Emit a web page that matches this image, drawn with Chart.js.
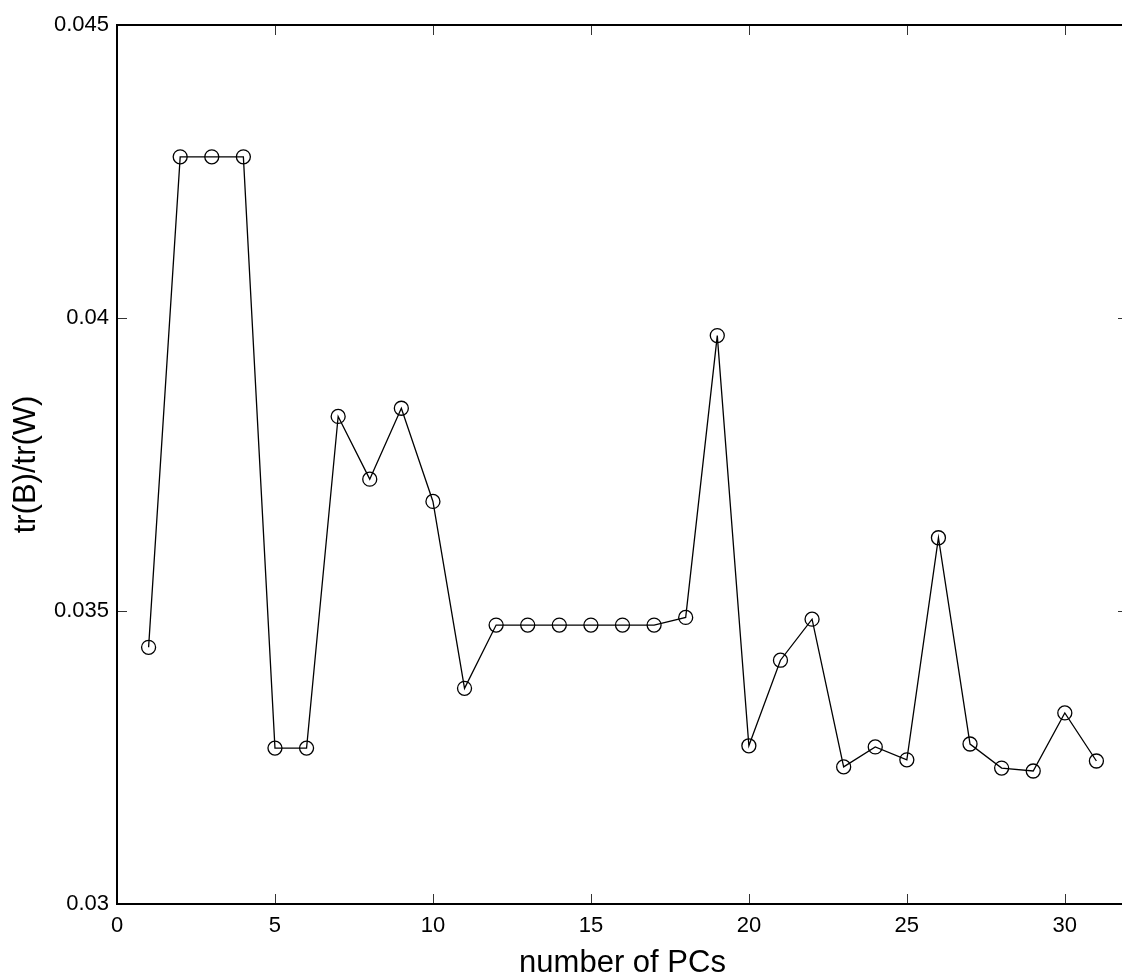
<!DOCTYPE html>
<html>
<head>
<meta charset="utf-8">
<script src="https://cdn.jsdelivr.net/npm/chart.js@4/dist/chart.umd.min.js"></script>
<style>
    html, body { margin: 0; padding: 0; background: #fff; overflow: hidden; }
    #wrap { position: absolute; left: 0; top: 0; width: 1140px; height: 979px; }
</style>
</head>
<body>
<div id="wrap"><canvas id="pcChart" width="1140" height="979"></canvas></div>
<script>
// number of PCs
const pcs = [1, 2, 3, 4, 5, 6, 7, 8, 9, 10, 11, 12, 13, 14, 15, 16,
    17, 18, 19, 20, 21, 22, 23, 24, 25, 26, 27, 28, 29, 30, 31];
// tr(B)/tr(W)
const ratio = [0.03438, 0.04275, 0.04275, 0.04275, 0.03266, 0.03266, 0.03832, 0.03725,
    0.03846, 0.03687, 0.03368, 0.03476, 0.03476, 0.03476, 0.03476, 0.03476,
    0.03476, 0.03489, 0.03970, 0.03270, 0.03416, 0.03486, 0.03234, 0.03268,
    0.03246, 0.03625, 0.03273, 0.03232, 0.03227, 0.03326, 0.03244];
const xTicks = [0, 5, 10, 15, 20, 25, 30];
const yTicks = [0.03, 0.035, 0.04, 0.045];
const yTickLabels = ['0.03', '0.035', '0.04', '0.045'];

// box + inward ticks on all four sides, matlab style
const frameTicks = {
    id: 'frameTicks',
    afterDraw(chart) {
        const c = chart.ctx;
        const area = chart.chartArea;
        const xs = chart.scales.x;
        const ys = chart.scales.y;
        const len = 10;
        c.save();
        c.strokeStyle = '#333';
        c.lineWidth = 1;
        c.beginPath();
        xTicks.forEach(v => {
            const px = Math.round(xs.getPixelForValue(v)) + 0.5;
            c.moveTo(px, area.bottom); c.lineTo(px, area.bottom - len);
            c.moveTo(px, area.top); c.lineTo(px, area.top + len);
        });
        yTicks.forEach(v => {
            const py = Math.round(ys.getPixelForValue(v)) + 0.5;
            c.moveTo(area.left, py); c.lineTo(area.left + len, py);
            c.moveTo(area.right, py); c.lineTo(area.right - len, py);
        });
        c.stroke();
        c.strokeStyle = '#000';
        c.lineWidth = 2;
        c.strokeRect(area.left, area.top, area.right - area.left, area.bottom - area.top);
        c.restore();
    }
};

const points = pcs.map((x, i) => ({ x: x, y: ratio[i] }));

new Chart(document.getElementById('pcChart'), {
    type: 'line',
    data: {
        datasets: [{
            data: points,
            borderColor: '#000',
            borderWidth: 1.3,
            pointStyle: 'circle',
            pointRadius: 7,
            pointBorderWidth: 1.3,
            pointBorderColor: '#000',
            pointBackgroundColor: 'rgba(0,0,0,0)',
            fill: false,
            tension: 0
        }]
    },
    options: {
        responsive: false,
        animation: false,
        layout: { padding: { top: 25, right: 12, left: 0, bottom: 0 } },
        plugins: {
            legend: { display: false },
            tooltip: { enabled: false }
        },
        scales: {
            x: {
                type: 'linear',
                min: 0,
                max: 32,
                afterBuildTicks: s => { s.ticks = xTicks.map(v => ({ value: v })); },
                afterFit: s => { s.height = 75; },
                grid: { display: false, drawTicks: false },
                border: { display: false },
                ticks: {
                    padding: 9,
                    color: '#000',
                    font: { family: "'Liberation Sans', Arial, sans-serif", size: 22 },
                    maxRotation: 0
                },
                title: {
                    display: true,
                    text: 'number of PCs',
                    color: '#000',
                    font: { family: "'Liberation Sans', Arial, sans-serif", size: 31, lineHeight: 1 },
                    padding: { top: 0, bottom: 0 }
                }
            },
            y: {
                type: 'linear',
                min: 0.03,
                max: 0.045,
                afterBuildTicks: s => { s.ticks = yTicks.map(v => ({ value: v })); },
                afterFit: s => { s.width = 117; },
                grid: { display: false, drawTicks: false },
                border: { display: false },
                ticks: {
                    padding: 8,
                    color: '#000',
                    font: { family: "'Liberation Sans', Arial, sans-serif", size: 22 },
                    callback: (v, i) => yTickLabels[i]
                },
                title: {
                    display: true,
                    text: 'tr(B)/tr(W)',
                    color: '#000',
                    font: { family: "'Liberation Sans', Arial, sans-serif", size: 31, lineHeight: 1 },
                    padding: { top: 11, bottom: 0 }
                }
            }
        }
    },
    plugins: [frameTicks]
});
</script>
</body>
</html>
